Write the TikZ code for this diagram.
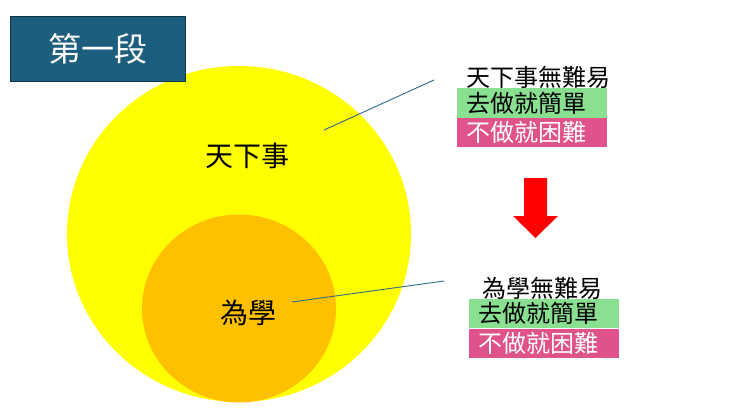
\documentclass[tikz,border=0pt]{standalone}
\usepackage{fontspec}
\newfontfamily\cjk{Noto Sans CJK TC}
\definecolor{titlebg}{HTML}{1D5E7E}
\definecolor{titleedge}{HTML}{0E3448}
\definecolor{ycirc}{HTML}{FFFF00}
\definecolor{ocirc}{HTML}{FFC000}
\definecolor{gfill}{HTML}{88E090}
\definecolor{pfill}{HTML}{E0528A}
\definecolor{leader}{HTML}{2F6A88}
\definecolor{arrowred}{HTML}{FF0000}
\begin{document}
\begin{tikzpicture}[x=1pt,y=-1pt,
  lbl/.style={inner sep=0pt, font=\cjk\fontsize{#1}{#1}\selectfont},
  lbl/.default=24,
  gbox/.style={fill=gfill, inner xsep=9pt, inner ysep=0pt, minimum height=29.5pt, text width=132pt, align=left, anchor=north west, font=\cjk\fontsize{24}{24}\selectfont},
  pbox/.style={gbox, fill=pfill, text=white},
  leaderline/.style={draw=leader, line width=0.9pt}
]
\useasboundingbox (0,0) rectangle (740,416);
\fill[white] (0,0) rectangle (740,416);
% circles
\fill[ycirc] (239,234) ellipse [x radius=172, y radius=168];
\fill[ocirc] (239,308.5) ellipse [x radius=97, y radius=94];
% title
\node[draw=titleedge, fill=titlebg, line width=0.6pt, minimum width=175pt, minimum height=65pt, inner sep=0pt, anchor=north west, text=white, font=\cjk\fontsize{33}{33}\selectfont] (title) at (10,16) {第一段};
% labels in circles
\node[lbl=28] (world) at (247,156) {天下事};
\node[lbl=28] (learn) at (248,313) {為學};
\coordinate (l1s) at (324,130);
\coordinate (l2s) at (292,302);
% right groups
\node[lbl, anchor=west] (h1) at (466,77) {天下事無難易};
\node[gbox] (g1) at (457,88) {去做就簡單};
\node[pbox] (p1) at (457,117.5) {不做就困難};
\node[lbl, anchor=west] (h2) at (482,288) {為學無難易};
\node[gbox] (g2) at (469,298.5) {去做就簡單};
\node[pbox] (p2) at (469,328.5) {不做就困難};
\coordinate (l1e) at (434,80);
\coordinate (l2e) at (444,281);
\draw[leaderline] (l1s) -- (l1e);
\draw[leaderline] (l2s) -- (l2e);
% red arrow
\fill[arrowred] (524,178) -- (547,178) -- (547,216) -- (558,216) -- (535.5,238) -- (513,216) -- (524,216) -- cycle;
\end{tikzpicture}
\end{document}
